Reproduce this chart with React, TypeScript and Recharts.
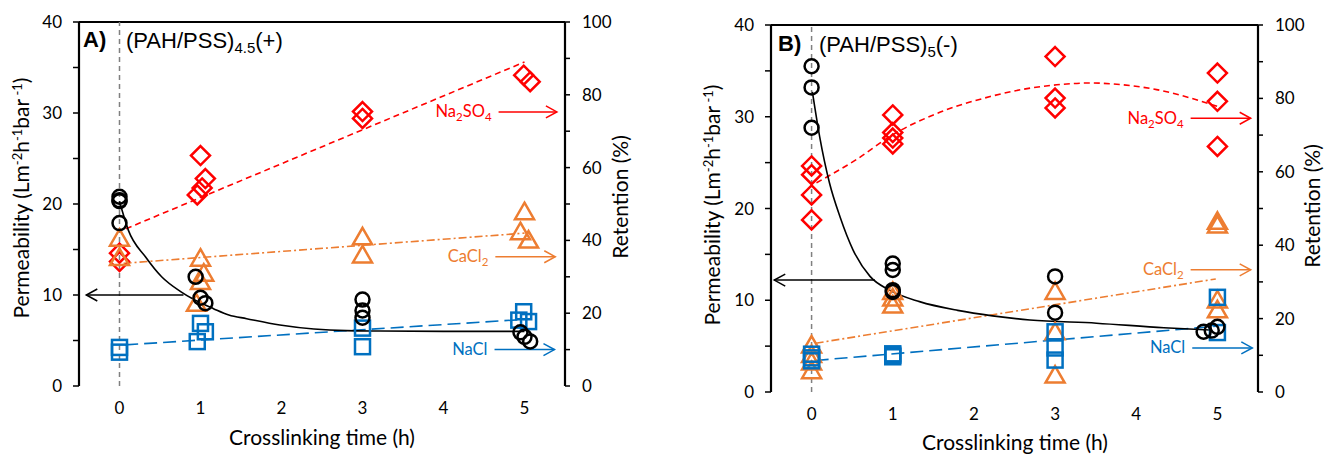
import { ComposedChart, Line, ReferenceLine, Scatter, XAxis, YAxis } from 'recharts';

type Pt = { x: number; y: number };

const FONT = 'Lato, "Open Sans", sans-serif';
const ARIAL = '"Liberation Sans", Arial, sans-serif';
const RED = '#FF0000';
const ORANGE = '#ED7D31';
const BLUE = '#0070C0';

const xTickMarks = [-0.5, 0.5, 1.5, 2.5, 3.5, 4.5, 5.5];
const xTickLabels = [0, 1, 2, 3, 4, 5];
const permTicks = [0, 5, 10, 15, 20, 25, 30, 35, 40];
const retTicks = [0, 10, 20, 30, 40, 50, 60, 70, 80, 90, 100];

// ---- panel A: (PAH/PSS)4.5(+) ----
const permA: Pt[] = [
    { x: 0, y: 20.8 }, { x: 0, y: 20.4 }, { x: 0, y: 20.3 }, { x: 0, y: 17.9 },
    { x: 0.94, y: 12.0 }, { x: 1.0, y: 9.7 }, { x: 1.06, y: 9.1 },
    { x: 3, y: 9.5 }, { x: 3, y: 8.3 }, { x: 3, y: 7.5 },
    { x: 4.95, y: 5.9 }, { x: 5.0, y: 5.4 }, { x: 5.07, y: 4.9 },
];
const permFitA: Pt[] = [
    { x: 0, y: 20.3 }, { x: 0.11, y: 17.1 }, { x: 0.32, y: 14.2 }, { x: 0.52, y: 12.0 },
    { x: 0.75, y: 10.4 }, { x: 0.93, y: 9.45 }, { x: 1.16, y: 8.5 }, { x: 1.35, y: 7.8 },
    { x: 1.57, y: 7.4 }, { x: 1.98, y: 6.7 }, { x: 2.4, y: 6.26 }, { x: 2.8, y: 6.08 },
    { x: 3.22, y: 6.04 }, { x: 4, y: 6.0 }, { x: 5, y: 6.0 },
];
const permArrowA: Pt[] = [{ x: 0.79, y: 10 }, { x: -0.41, y: 10 }];
const na2so4A: Pt[] = [
    { x: 0, y: 36.5 }, { x: 0, y: 34.2 },
    { x: 0.96, y: 52.5 }, { x: 1.02, y: 54.4 }, { x: 1.0, y: 63.3 }, { x: 1.06, y: 57.0 },
    { x: 3, y: 75.4 }, { x: 3, y: 73.5 },
    { x: 4.99, y: 85.4 }, { x: 5.07, y: 83.6 },
];
const na2so4FitA: Pt[] = [{ x: 0.08, y: 43.2 }, { x: 5.0, y: 89.0 }];
const cacl2A: Pt[] = [
    { x: 0, y: 40.6 }, { x: 0, y: 35.3 },
    { x: 1.0, y: 35.1 }, { x: 1.04, y: 31.0 }, { x: 1.0, y: 28.7 }, { x: 0.95, y: 22.7 },
    { x: 3, y: 41.0 }, { x: 3, y: 36.0 },
    { x: 5.0, y: 47.9 }, { x: 4.95, y: 42.4 }, { x: 5.05, y: 40.1 },
];
const cacl2FitA: Pt[] = [{ x: 0.05, y: 33.7 }, { x: 5.0, y: 42.0 }];
const naclA: Pt[] = [
    { x: 0, y: 10.6 }, { x: 0, y: 9.3 },
    { x: 1.0, y: 17.2 }, { x: 1.06, y: 14.9 }, { x: 0.96, y: 12.2 },
    { x: 3, y: 15.9 }, { x: 3, y: 10.8 },
    { x: 4.99, y: 20.4 }, { x: 4.93, y: 18.1 }, { x: 5.05, y: 17.7 },
];
const naclFitA: Pt[] = [{ x: 0.07, y: 11.3 }, { x: 5.0, y: 18.3 }];
const na2so4NoteA: Pt[] = [{ x: 4.68, y: 75.3 }, { x: 5.4, y: 75.3 }];
const cacl2NoteA: Pt[] = [{ x: 4.64, y: 35.5 }, { x: 5.38, y: 35.5 }];
const naclNoteA: Pt[] = [{ x: 4.63, y: 10 }, { x: 5.37, y: 10 }];

// ---- panel B: (PAH/PSS)5(-) ----
const permB: Pt[] = [
    { x: 0, y: 35.5 }, { x: 0, y: 33.2 }, { x: 0, y: 28.8 },
    { x: 1, y: 14.0 }, { x: 1, y: 13.3 }, { x: 1, y: 11.1 }, { x: 1, y: 10.9 },
    { x: 3, y: 12.6 }, { x: 3, y: 8.65 },
    { x: 4.83, y: 6.58 }, { x: 4.93, y: 6.69 }, { x: 5.0, y: 7.1 },
];
const permFitB: Pt[] = [
    { x: 0.01, y: 32.7 }, { x: 0.1, y: 27.8 }, { x: 0.22, y: 22.8 }, { x: 0.35, y: 19.1 },
    { x: 0.51, y: 15.5 }, { x: 0.72, y: 12.6 }, { x: 0.96, y: 11.1 }, { x: 1.33, y: 9.85 },
    { x: 1.8, y: 8.9 }, { x: 2.23, y: 8.3 }, { x: 2.69, y: 7.85 }, { x: 3.51, y: 7.5 },
    { x: 4.34, y: 7.0 }, { x: 4.91, y: 6.76 },
];
const permArrowB: Pt[] = [{ x: 0.78, y: 12.2 }, { x: -0.46, y: 12.2 }];
const na2so4B: Pt[] = [
    { x: 0, y: 61.6 }, { x: 0, y: 59.2 }, { x: 0, y: 53.7 }, { x: 0, y: 46.9 },
    { x: 1, y: 75.5 }, { x: 1, y: 70.7 }, { x: 1, y: 69.2 }, { x: 1, y: 67.6 },
    { x: 3, y: 91.4 }, { x: 3, y: 80.1 }, { x: 3, y: 77.4 },
    { x: 5, y: 86.9 }, { x: 5, y: 79.2 }, { x: 5, y: 66.9 },
];
const na2so4FitB: Pt[] = [
    { x: 0.06, y: 57.0 }, { x: 0.55, y: 63.3 }, { x: 1.0, y: 70.1 }, { x: 1.5, y: 75.5 },
    { x: 2.2, y: 80.5 }, { x: 2.61, y: 82.5 }, { x: 3.02, y: 83.7 }, { x: 3.43, y: 84.2 },
    { x: 3.84, y: 83.7 }, { x: 4.25, y: 82.4 }, { x: 4.67, y: 80.1 }, { x: 5.0, y: 77.8 },
];
const cacl2B: Pt[] = [
    { x: 0, y: 12.8 }, { x: 0, y: 10.2 }, { x: 0, y: 8.2 }, { x: 0, y: 5.8 },
    { x: 1, y: 27.4 }, { x: 1, y: 25.6 }, { x: 1, y: 23.7 },
    { x: 3, y: 27.4 }, { x: 3, y: 16.4 }, { x: 3, y: 4.6 },
    { x: 5, y: 46.5 }, { x: 5, y: 45.5 }, { x: 5, y: 25.1 }, { x: 5, y: 22.4 },
];
const cacl2FitB: Pt[] = [{ x: 0.05, y: 13.3 }, { x: 4.98, y: 30.8 }];
const naclB: Pt[] = [
    { x: 0, y: 10.3 }, { x: 0, y: 9.3 }, { x: 0, y: 8.5 },
    { x: 1, y: 10.4 }, { x: 1, y: 10.0 }, { x: 1, y: 9.6 },
    { x: 3, y: 16.4 }, { x: 3, y: 12.0 }, { x: 3, y: 8.7 },
    { x: 5, y: 25.8 }, { x: 5, y: 16.2 },
];
const naclFitB: Pt[] = [{ x: 0.05, y: 8.6 }, { x: 4.98, y: 17.9 }];
const na2so4NoteB: Pt[] = [{ x: 4.67, y: 74.6 }, { x: 5.41, y: 74.6 }];
const cacl2NoteB: Pt[] = [{ x: 4.67, y: 33.3 }, { x: 5.41, y: 33.3 }];
const naclNoteB: Pt[] = [{ x: 4.69, y: 12 }, { x: 5.43, y: 12 }];

type Kind = 'circle' | 'diamond' | 'triangle' | 'square';

function Marker({ cx, cy, kind, color }: { cx: number; cy: number; kind: Kind; color: string }) {
    const common = { fill: 'none', stroke: color, strokeWidth: 2.5 };
    if (kind === 'circle') return <circle cx={cx} cy={cy} r={7} {...common} />;
    if (kind === 'diamond') return <path d={`M${cx},${cy - 9.5}L${cx + 9.5},${cy}L${cx},${cy + 9.5}L${cx - 9.5},${cy}Z`} {...common} />;
    if (kind === 'triangle') return <path d={`M${cx},${cy - 9}L${cx + 9.5},${cy + 7.5}L${cx - 9.5},${cy + 7.5}Z`} {...common} />;
    return <rect x={cx - 7.5} y={cy - 7.5} width={15} height={15} {...common} />;
}

const shapeOf = (kind: Kind, color: string) => (p: any) => <Marker cx={p.cx} cy={p.cy} kind={kind} color={color} />;

function Chem({ x, y, text, color }: { x: number; y: number; text: string; color: string }) {
    const parts = text.match(/[A-Za-z]+|\d+/g) ?? [];
    return (
        <text x={x} y={y + 5.5} textAnchor="end" fill={color} fontSize={16.5} fontFamily={FONT}>
            {parts.map((p, i) =>
                /\d/.test(p) ? (
                    <tspan key={i} fontSize={11.5} dy={4}>{p}</tspan>
                ) : (
                    <tspan key={i} dy={i > 0 ? -4 : undefined}>{p}</tspan>
                ),
            )}
        </text>
    );
}

// arrow: first point is the tail (label goes there), last point is the head
const arrowDot = (pts: Pt[], color: string, label?: string) => (p: any) => {
    const dir = pts[pts.length - 1].x > pts[0].x ? 1 : -1;
    if (p.index === pts.length - 1) {
        return (
            <polyline key={`h${p.index}`} points={`${p.cx - 11 * dir},${p.cy - 6} ${p.cx},${p.cy} ${p.cx - 11 * dir},${p.cy + 6}`}
                fill="none" stroke={color} strokeWidth={1.5} />
        );
    }
    if (p.index === 0 && label) return <g key={`t${p.index}`}><Chem x={p.cx - 7} y={p.cy} text={label} color={color} /></g>;
    return <g key={`n${p.index}`} />;
};

interface PanelProps {
    left: number;
    width: number;
    margin: { top: number; right: number; bottom: number; left: number };
    perm: Pt[]; permFit: Pt[]; permArrow: Pt[];
    na2so4: Pt[]; na2so4Fit: Pt[]; na2so4Note: Pt[];
    cacl2: Pt[]; cacl2Fit: Pt[]; cacl2Note: Pt[];
    nacl: Pt[]; naclFit: Pt[]; naclNote: Pt[];
}

const axisLine = { stroke: '#000', strokeWidth: 2.2 };
const tickLine = { stroke: '#000', strokeWidth: 1.5 };
const tickStyle = { fill: '#000', fontSize: 17, fontFamily: FONT };

function Panel(p: PanelProps) {
    const fit = (data: Pt[], color: string, dash: string | undefined, yAxisId: string, type: 'linear' | 'monotone') => (
        <Line xAxisId="t" yAxisId={yAxisId} data={data} dataKey="y" type={type} stroke={color} strokeWidth={1.6}
            strokeDasharray={dash} dot={false} activeDot={false} isAnimationActive={false} legendType="none" />
    );
    const arrow = (data: Pt[], color: string, yAxisId: string, label?: string) => (
        <Line xAxisId="t" yAxisId={yAxisId} data={data} dataKey="y" type="linear" stroke={color} strokeWidth={1.5}
            dot={arrowDot(data, color, label)} activeDot={false} isAnimationActive={false} legendType="none" />
    );
    return (
        <div style={{ position: 'absolute', left: p.left, top: 0 }}>
            <ComposedChart width={p.width} height={455} margin={p.margin}>
                <XAxis xAxisId="t" type="number" dataKey="x" domain={[-0.5, 5.5]} ticks={xTickMarks} tick={false}
                    height={0} tickSize={5} axisLine={axisLine} tickLine={tickLine} allowDataOverflow />
                <XAxis xAxisId="l" type="number" dataKey="x" domain={[-0.5, 5.5]} ticks={xTickLabels} tickLine={false}
                    axisLine={false} height={30} tickSize={6} tickMargin={10} tick={tickStyle} allowDataOverflow />
                <YAxis yAxisId="p" type="number" dataKey="y" domain={[0, 40]} ticks={permTicks} width={40} tickSize={6} tickMargin={11}
                    tickFormatter={(v: number) => (v % 10 === 0 ? String(v) : '')} axisLine={axisLine} tickLine={tickLine} tick={tickStyle} allowDataOverflow />
                <YAxis yAxisId="r" orientation="right" type="number" dataKey="y" domain={[0, 100]} ticks={retTicks} width={40} tickSize={5} tickMargin={12}
                    tickFormatter={(v: number) => (v % 20 === 0 ? String(v) : '')} axisLine={axisLine} tickLine={tickLine} tick={tickStyle} allowDataOverflow />

                <ReferenceLine xAxisId="t" yAxisId="p" y={40} stroke="#000" strokeWidth={2} />
                <ReferenceLine xAxisId="t" yAxisId="p" x={0} stroke="#808080" strokeWidth={1.5} strokeDasharray="5 4" />

                {fit(p.na2so4Fit, RED, '6 4', 'r', 'monotone')}
                {fit(p.cacl2Fit, ORANGE, '8 3 2 3', 'r', 'linear')}
                {fit(p.naclFit, BLUE, '13 6', 'r', 'linear')}
                {fit(p.permFit, '#000', undefined, 'p', 'monotone')}

                <Scatter xAxisId="t" yAxisId="r" data={p.na2so4} shape={shapeOf('diamond', RED)} isAnimationActive={false} />
                <Scatter xAxisId="t" yAxisId="r" data={p.cacl2} shape={shapeOf('triangle', ORANGE)} isAnimationActive={false} />
                <Scatter xAxisId="t" yAxisId="r" data={p.nacl} shape={shapeOf('square', BLUE)} isAnimationActive={false} />
                <Scatter xAxisId="t" yAxisId="p" data={p.perm} shape={shapeOf('circle', '#000')} isAnimationActive={false} />

                {arrow(p.permArrow, '#000', 'p')}
                {arrow(p.na2so4Note, RED, 'r', 'Na2SO4')}
                {arrow(p.cacl2Note, ORANGE, 'r', 'CaCl2')}
                {arrow(p.naclNote, BLUE, 'r', 'NaCl')}
            </ComposedChart>
        </div>
    );
}

function PermTitle({ x, y }: { x: number; y: number }) {
    return (
        <text transform={`translate(${x},${y}) rotate(-90)`} textAnchor="middle" fontSize={21} fontFamily={FONT} fill="#000">
            Permeability (Lm<tspan dy={-7} fontSize={13}>-2</tspan><tspan dy={7}>h</tspan>
            <tspan dy={-7} fontSize={13}>-1</tspan><tspan dy={7}>bar</tspan>
            <tspan dy={-7} fontSize={13}> -1</tspan><tspan dy={7}>)</tspan>
        </text>
    );
}

function Titles() {
    const t = { fontSize: 21, fontFamily: FONT, fill: '#000' };
    return (
        <svg width={1328} height={455} style={{ position: 'absolute', left: 0, top: 0, pointerEvents: 'none' }}>
            <PermTitle x={29} y={198} />
            <text transform="translate(628,197) rotate(-90)" textAnchor="middle" {...t}>Retention (%)</text>
            <text x={322} y={445} textAnchor="middle" {...t}>Crosslinking time (h)</text>
            <text x={83} y={47} fontSize={22} fontWeight="bold" fontFamily={ARIAL}>A)</text>
            <text x={126} y={48} fontSize={22} fontFamily={ARIAL}>
                (PAH/PSS)<tspan dy={5} fontSize={15}>4.5</tspan><tspan dy={-5}>(+)</tspan>
            </text>

            <PermTitle x={720} y={205} />
            <text transform="translate(1320,206) rotate(-90)" textAnchor="middle" {...t}>Retention (%)</text>
            <text x={1015} y={450} textAnchor="middle" {...t}>Crosslinking time (h)</text>
            <text x={778} y={51} fontSize={22} fontWeight="bold" fontFamily={ARIAL}>B)</text>
            <text x={819} y={52} fontSize={22} fontFamily={ARIAL}>
                (PAH/PSS)<tspan dy={5} fontSize={15}>5</tspan><tspan dy={-5}>(-)</tspan>
            </text>
        </svg>
    );
}

export default function App() {
    return (
        <div style={{ position: 'absolute', left: 0, top: 0, width: 1328, height: 455, background: '#fff' }}>
            <Panel left={0} width={665} margin={{ top: 22, right: 60, bottom: 39, left: 39 }}
                perm={permA} permFit={permFitA} permArrow={permArrowA}
                na2so4={na2so4A} na2so4Fit={na2so4FitA} na2so4Note={na2so4NoteA}
                cacl2={cacl2A} cacl2Fit={cacl2FitA} cacl2Note={cacl2NoteA}
                nacl={naclA} naclFit={naclFitA} naclNote={naclNoteA} />
            <Panel left={665} width={663} margin={{ top: 25, right: 30, bottom: 33, left: 66 }}
                perm={permB} permFit={permFitB} permArrow={permArrowB}
                na2so4={na2so4B} na2so4Fit={na2so4FitB} na2so4Note={na2so4NoteB}
                cacl2={cacl2B} cacl2Fit={cacl2FitB} cacl2Note={cacl2NoteB}
                nacl={naclB} naclFit={naclFitB} naclNote={naclNoteB} />
            <Titles />
        </div>
    );
}
